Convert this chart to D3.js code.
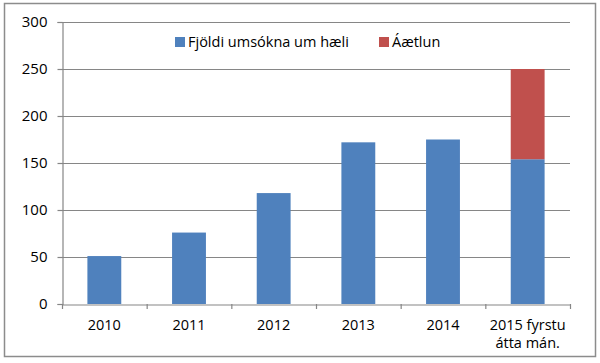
<!DOCTYPE html>
<html>
<head>
<meta charset="utf-8">
<script src="https://cdn.jsdelivr.net/npm/d3@7"></script>
<style>
  body { margin: 0; background: #fff; }
  text { font-family: "Open Sans", sans-serif; fill: #000; }
</style>
</head>
<body>
<div id="chart"></div>
<script>
const categories = ['2010', '2011', '2012', '2013', '2014', '2015 fyrstu|átta mán.'];
const applications = [51, 76, 118, 172, 175, 154];
const estimate = [0, 0, 0, 0, 0, 96];
const yTicks = [0, 50, 100, 150, 200, 250, 300];
const seriesNames = ['Fjöldi umsókna um hæli', 'Áætlun'];
const colors = ['#4F81BD', '#C0504D'];

const w = 600, h = 363;
const plotLeft = 62, plotRight = 570, plotTop = 22, plotBottom = 304;

const svg = d3.select('#chart').append('svg')
  .attr('width', w).attr('height', h);

//border
svg.append('rect')
  .attr('x', 4.5).attr('y', 3.5).attr('width', 591).attr('height', 353)
  .attr('fill', '#fff').attr('stroke', '#8c8c8c').attr('stroke-width', 1.5);

const xScale = d3.scaleBand().domain(categories).range([plotLeft, plotRight]).padding(0);
const yScale = d3.scaleLinear().domain([0, 300]).range([plotBottom, plotTop]);
const barW = xScale.bandwidth() * 0.4;

//gridlines
svg.selectAll('.grid').data(yTicks.filter(d => d > 0)).enter()
  .append('line')
  .attr('x1', plotLeft).attr('x2', plotRight)
  .attr('y1', d => Math.round(yScale(d)) + 0.5).attr('y2', d => Math.round(yScale(d)) + 0.5)
  .attr('stroke', '#868686').attr('stroke-width', 1.2);

//stacked bars
const stack = d3.stack().keys([0, 1]).value((d, k) => d[k]);
const rows = categories.map((c, i) => [applications[i], estimate[i]]);
const layers = stack(rows);

layers.forEach((layer, k) => {
  svg.selectAll('.bar' + k).data(layer).enter()
    .append('rect')
    .attr('x', (d, i) => xScale(categories[i]) + (xScale.bandwidth() - barW) / 2)
    .attr('y', d => yScale(d[1]))
    .attr('width', barW)
    .attr('height', d => yScale(d[0]) - yScale(d[1]))
    .attr('fill', colors[k]);
});

//axes
const yAxis = d3.axisLeft(yScale).tickValues(yTicks).tickSize(5).tickPadding(10);
const gy = svg.append('g').attr('transform', `translate(${plotLeft + 0.5},0)`).call(yAxis);
gy.selectAll('path, line').attr('stroke', '#868686').attr('stroke-width', 1.2);
gy.selectAll('text').style('font-size', '15px').attr('fill', '#000');

const xAxis = d3.axisBottom(xScale).tickSize(0).tickFormat('');
const gx = svg.append('g').attr('transform', `translate(0,${plotBottom + 0.5})`).call(xAxis);
gx.select('path').attr('stroke', '#868686').attr('stroke-width', 1.2);

//category separator ticks
const sepTicks = categories.map(c => xScale(c)).concat([plotRight]);
svg.selectAll('.sep').data(sepTicks).enter()
  .append('line')
  .attr('x1', d => d + 0.5).attr('x2', d => d + 0.5)
  .attr('y1', plotBottom).attr('y2', plotBottom + 5)
  .attr('stroke', '#868686').attr('stroke-width', 1.2);

//category labels
categories.forEach(c => {
  const lines = c.split('|');
  const t = svg.append('text')
    .attr('x', xScale(c) + xScale.bandwidth() / 2)
    .attr('y', 330)
    .attr('text-anchor', 'middle')
    .style('font-size', '14.5px');
  lines.forEach((l, i) => {
    t.append('tspan')
      .attr('x', xScale(c) + xScale.bandwidth() / 2)
      .attr('dy', i === 0 ? 0 : 18)
      .text(l);
  });
});

//legend
const legendX = [175, 379];
seriesNames.forEach((name, k) => {
  svg.append('rect')
    .attr('x', legendX[k]).attr('y', 37).attr('width', 10).attr('height', 10)
    .attr('fill', colors[k]);
  svg.append('text')
    .attr('x', legendX[k] + 13).attr('y', 46.5)
    .style('font-size', '14.5px')
    .text(name);
});
</script>
</body>
</html>
